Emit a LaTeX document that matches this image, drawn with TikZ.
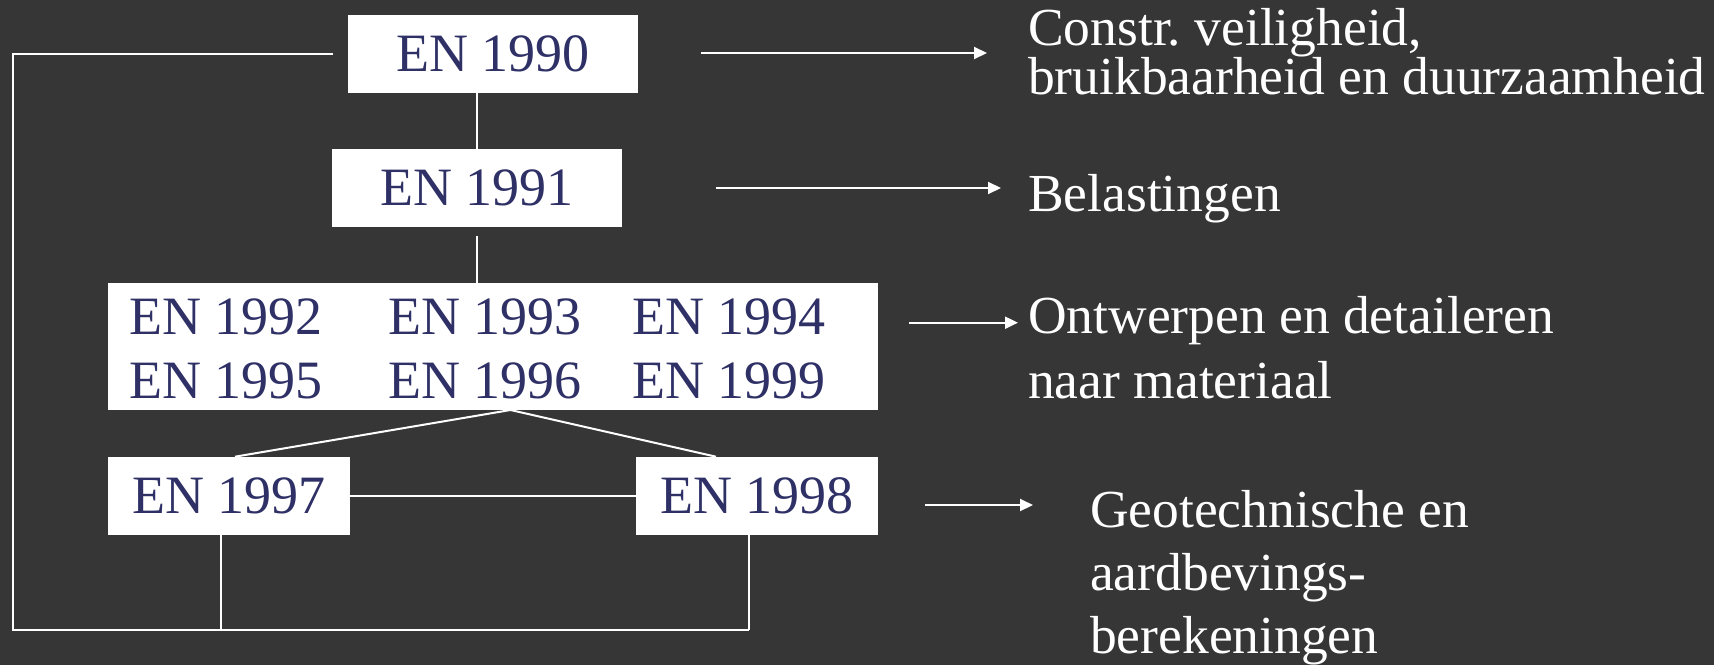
\documentclass[tikz,border=0pt]{standalone}
\usepackage{fontspec}
\setmainfont{Liberation Serif}
\usetikzlibrary{arrows.meta}
\frenchspacing

\definecolor{slidebg}{RGB}{54,54,54}
\definecolor{ennavy}{RGB}{46,48,102}

\tikzset{
	enbox/.style={fill=white, text=ennavy, inner sep=0pt, minimum height=78pt, font=\fontsize{54}{54}\selectfont},
	entext/.style={text=ennavy, inner sep=0pt, anchor=base west, font=\fontsize{54}{54}\selectfont},
	link/.style={draw=white, line width=2pt},
	pointer/.style={draw=white, line width=2pt, -{Triangle[length=13pt,width=12pt]}},
	note/.style={text=white, inner sep=0pt, anchor=base west, align=left}, % base = last line
}

\begin{document}
\begin{tikzpicture}[x=1pt,y=-1pt]
\fill[slidebg] (0,0) rectangle (1714,665);
\useasboundingbox (0,0) rectangle (1714,665);

% boxes
\node[enbox, minimum width=290pt] (b1990) at (493,53.7) {EN 1990};
\node[enbox, minimum width=290pt] (b1991) at (477,188) {EN 1991};
\node[fill=white, inner sep=0pt, minimum width=770pt, minimum height=127pt] (grp) at (493,346.5) {};
\node[enbox, minimum width=242pt] (b1997) at (229,495.8) {EN 1997};
\node[enbox, minimum width=242pt] (b1998) at (757,495.8) {EN 1998};

\foreach \n/\x/\y in {1992/129/334.3, 1993/388/334.3, 1994/632/334.3, 1995/129/398.3, 1996/388/398.3, 1999/632/398.3}
{	\node[entext] (en\n) at (\x,\y) {EN \n};
}

% connecting lines
\coordinate (drop) at (477,236);
\coordinate (apex) at (510.5,410);
\coordinate (top97) at (235,456.7);
\coordinate (top98) at (716,456.7);
\coordinate (back) at (333,54);
\coordinate (corner) at (12.7,54);
\coordinate (foot97) at (221,630);
\coordinate (foot98) at (748.7,630);

\draw[link] (b1991.north |- b1990.south) -- (b1991.north);
\draw[link] (drop) -- (drop |- grp.north);
\draw[link] (top97) -- (apex) -- (top98);
\draw[link] (b1997) -- (b1998);
\draw[link] (back) -- (corner) |- (foot98); %loop back to EN 1990
\draw[link] (foot97 |- b1997.south) -- (foot97);
\draw[link] (foot98 |- b1998.south) -- (foot98);

% pointers to the descriptions
\coordinate (p1) at (701,53);   \coordinate (q1) at (987,53);
\coordinate (p2) at (716,188);  \coordinate (q2) at (1001,188);
\coordinate (p3) at (909,322.7); \coordinate (q3) at (1018,322.7);
\coordinate (p4) at (925,505);  \coordinate (q4) at (1033,505);
\foreach \i in {1,...,4}
{	\draw[pointer] (p\i) -- (q\i);
}

\node[note, font=\fontsize{53.5}{49.3}\selectfont] (lab1) at (1028,94.3) {Constr. veiligheid,\\bruikbaarheid en duurzaamheid};
\node[note, font=\fontsize{53.5}{64}\selectfont] (lab2) at (1028,211) {Belastingen};
\node[note, font=\fontsize{53.5}{65}\selectfont] (lab3) at (1028,398) {Ontwerpen en detaileren\\naar materiaal};
\node[note, font=\fontsize{53.5}{63}\selectfont] (lab4) at (1090,653) {Geotechnische en\\aardbevings-\\berekeningen};
\end{tikzpicture}
\end{document}
